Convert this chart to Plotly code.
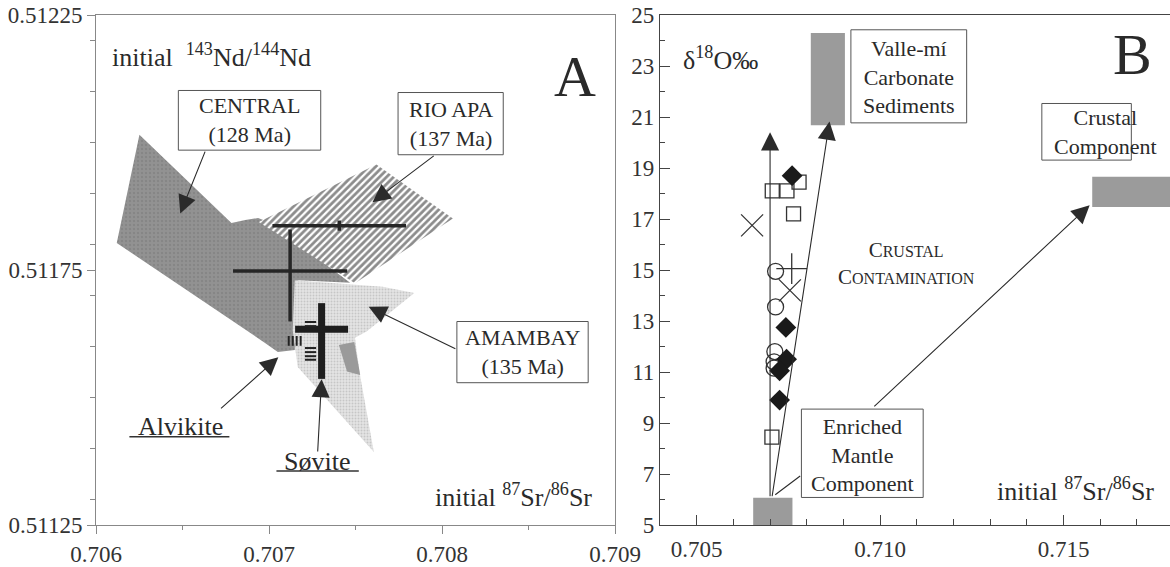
import plotly.graph_objects as go

FONT = "Liberation Serif"

# ---------------- Panel A data (initial 87Sr/86Sr vs 143Nd/144Nd) ----------------
central_x = [0.706251, 0.706783, 0.706863, 0.706937, 0.707011, 0.707469, 0.707166, 0.707149, 0.707051, 0.706977, 0.706120]
central_y = [0.512015, 0.511842, 0.511848, 0.511852, 0.511842, 0.511725, 0.511730, 0.511593, 0.511589, 0.511607, 0.511803]

rioapa_x = [0.706941, 0.707621, 0.708063, 0.707497]
rioapa_y = [0.511844, 0.511957, 0.511851, 0.511724]

amambay_x = [0.707149, 0.707657, 0.707840, 0.707566, 0.707497, 0.707526, 0.707606, 0.707166, 0.707137]
amambay_y = [0.511730, 0.511717, 0.511705, 0.511630, 0.511617, 0.511544, 0.511393, 0.511560, 0.511632]

sliver_x = [0.707404, 0.707493, 0.707527, 0.707451]
sliver_y = [0.511603, 0.511609, 0.511544, 0.511551]

# mean values with error bars
means_x = [0.707122, 0.707406]
means_y = [0.511748, 0.511837]
means_ex = [0.00033, 0.000386]
means_ey_plus = [0.0000814, 0.00001]
means_ey_minus = [0.0000988, 0.00001]

sovite_x = [0.707304]
sovite_y = [0.511634]
sovite_ex = [0.000153]
sovite_ey_plus = [0.000051]
sovite_ey_minus = [0.0000975]

alv_ns_x = [0.707114, 0.707137, 0.707160, 0.707183]
alv_ns_y = [0.511611, 0.511611, 0.511611, 0.511611]
alv_ew_x = [0.707240, 0.707240, 0.707240, 0.707240, 0.707240, 0.707240]
alv_ew_y = [0.511648, 0.511640, 0.511597, 0.511589, 0.511581, 0.511574]

# ---------------- Panel B data (initial 87Sr/86Sr vs d18O) ----------------
sq_x = [0.70706, 0.70746, 0.70779, 0.70764, 0.70705]
sq_y = [18.10, 18.10, 18.45, 17.20, 8.45]

ci_x = [0.70715, 0.70715, 0.70713, 0.70711, 0.70711]
ci_y = [14.95, 13.55, 11.80, 11.40, 11.15]

di_x = [0.70760, 0.70743, 0.70745, 0.70726, 0.70726]
di_y = [18.70, 12.75, 11.50, 11.05, 9.90]

xm_x = [0.70651, 0.70754]
xm_y = [16.75, 14.20]

pl_x = [0.70759]
pl_y = [15.05]

# end-member fields (x0, x1, y0, y1)
mantle_box = [0.70654, 0.70761, 5.0, 6.07]
vallemi_box = [0.70811, 0.70904, 20.68, 24.29]
crust_box = [0.71578, 0.71900, 17.47, 18.66]

fig = go.Figure()

# ---- Panel A polygons
fig.add_trace(go.Scatter(x=central_x, y=central_y, fill="toself", mode="lines",
                         line=dict(width=0, color="#8c8c8c"), fillcolor="#8e8e8e",
                         fillpattern=dict(shape=".", fgcolor="#7a7a7a", bgcolor="#929292", size=4, solidity=0.3),
                         xaxis="x", yaxis="y", hoverinfo="skip"))
fig.add_trace(go.Scatter(x=rioapa_x, y=rioapa_y, fill="toself", mode="lines",
                         line=dict(width=0, color="#333"),
                         fillpattern=dict(shape="/", fgcolor="#1a1a1a", bgcolor="white", size=5, solidity=0.55),
                         xaxis="x", yaxis="y", hoverinfo="skip"))
fig.add_trace(go.Scatter(x=amambay_x, y=amambay_y, fill="toself", mode="lines",
                         line=dict(width=0, color="#ccc"),
                         fillpattern=dict(shape=".", fgcolor="#a8a8a8", bgcolor="#e4e4e4", size=3, solidity=0.35),
                         xaxis="x", yaxis="y", hoverinfo="skip"))
fig.add_trace(go.Scatter(x=sliver_x, y=sliver_y, fill="toself", mode="lines",
                         line=dict(width=0, color="#999"), fillcolor="#9a9a9a",
                         xaxis="x", yaxis="y", hoverinfo="skip"))

# ---- Panel A error crosses
fig.add_trace(go.Scatter(x=means_x, y=means_y, mode="markers", marker=dict(size=1, color="#222"),
                         error_x=dict(type="data", array=means_ex, color="#262626", thickness=3.5, width=0),
                         error_y=dict(type="data", array=means_ey_plus, arrayminus=means_ey_minus,
                                      symmetric=False, color="#262626", thickness=3.5, width=0),
                         xaxis="x", yaxis="y", hoverinfo="skip"))
fig.add_trace(go.Scatter(x=sovite_x, y=sovite_y, mode="markers", marker=dict(size=1, color="#222"),
                         error_x=dict(type="data", array=sovite_ex, color="#1e1e1e", thickness=7, width=0),
                         error_y=dict(type="data", array=sovite_ey_plus, arrayminus=sovite_ey_minus,
                                      symmetric=False, color="#1e1e1e", thickness=7, width=0),
                         xaxis="x", yaxis="y", hoverinfo="skip"))
fig.add_trace(go.Scatter(x=alv_ns_x, y=alv_ns_y, mode="markers",
                         marker=dict(symbol="line-ns", size=7, line=dict(width=2, color="#222")),
                         xaxis="x", yaxis="y", hoverinfo="skip"))
fig.add_trace(go.Scatter(x=alv_ew_x, y=alv_ew_y, mode="markers",
                         marker=dict(symbol="line-ew", size=8, line=dict(width=2, color="#222")),
                         xaxis="x", yaxis="y", hoverinfo="skip"))

# ---- Panel B markers
mk_line = dict(width=1.3, color="#333")
fig.add_trace(go.Scatter(x=sq_x, y=sq_y, mode="markers",
                         marker=dict(symbol="square-open", size=14, color="#333", line=mk_line),
                         xaxis="x2", yaxis="y2", hoverinfo="skip"))
fig.add_trace(go.Scatter(x=ci_x, y=ci_y, mode="markers",
                         marker=dict(symbol="circle-open", size=16, color="#333", line=mk_line),
                         xaxis="x2", yaxis="y2", hoverinfo="skip"))
fig.add_trace(go.Scatter(x=di_x, y=di_y, mode="markers",
                         marker=dict(symbol="diamond", size=16, color="#1a1a1a", line=dict(width=0)),
                         xaxis="x2", yaxis="y2", hoverinfo="skip"))
fig.add_trace(go.Scatter(x=xm_x, y=xm_y, mode="markers",
                         marker=dict(symbol="x-thin-open", size=22, color="#333", line=mk_line),
                         xaxis="x2", yaxis="y2", hoverinfo="skip"))
fig.add_trace(go.Scatter(x=pl_x, y=pl_y, mode="markers",
                         marker=dict(symbol="cross-thin-open", size=22, color="#333", line=mk_line),
                         xaxis="x2", yaxis="y2", hoverinfo="skip"))

shapes = []
for b in (mantle_box, vallemi_box, crust_box):
    shapes.append(dict(type="rect", xref="x2", yref="y2", x0=b[0], x1=b[1], y0=b[2], y1=b[3],
                       fillcolor="#9b9b9b", line=dict(width=0), layer="below"))

# label boxes: (xref, yref, x0, x1, y0, y1)
label_boxes = [
    ("x", "y", 0.706476, 0.707299, 0.511985, 0.512102),
    ("x", "y", 0.707746, 0.708354, 0.511976, 0.512098),
    ("x", "y", 0.708086, 0.708845, 0.511529, 0.511649),
    ("x2", "y2", 0.709203, 0.712358, 20.77, 24.42),
    ("x2", "y2", 0.714407, 0.716846, 19.31, 21.53),
    ("x2", "y2", 0.707854, 0.711173, 6.08, 9.545),
]
for xr, yr, x0, x1, y0, y1 in label_boxes:
    shapes.append(dict(type="rect", xref=xr, yref=yr, x0=x0, x1=x1, y0=y0, y1=y1,
                       fillcolor="white", line=dict(width=1, color="#555")))
# underlines
shapes.append(dict(type="line", xref="x", yref="y", x0=0.706193, x1=0.706771, y0=0.511423, y1=0.511423,
                   line=dict(width=1.5, color="#333")))
shapes.append(dict(type="line", xref="x", yref="y", x0=0.707043, x1=0.707519, y0=0.511356, y1=0.511356,
                   line=dict(width=1.5, color="#333")))

ann = []
def arrow(xr, yr, tail, tip, head=2, size=3.3):
    ann.append(dict(xref=xr, yref=yr, axref=xr, ayref=yr, x=tip[0], y=tip[1], ax=tail[0], ay=tail[1],
                    text="", showarrow=True, arrowhead=head, arrowsize=size, arrowwidth=1.1,
                    arrowcolor="#2b2b2b", standoff=0, startstandoff=0))

arrow("x", "y", (0.706634, 0.511985), (0.706487, 0.511861))
arrow("x", "y", (0.707961, 0.511976), (0.707598, 0.511883))
arrow("x", "y", (0.708086, 0.511594), (0.707576, 0.511678))
arrow("x", "y", (0.706714, 0.511476), (0.707054, 0.511579))
arrow("x", "y", (0.707281, 0.511391), (0.707304, 0.511536))
arrow("x2", "y2", (0.70700, 6.07), (0.70700, 20.40))
arrow("x2", "y2", (0.70705, 6.07), (0.70862, 20.82))
arrow("x2", "y2", (0.70980, 9.60), (0.71571, 17.54))
arrow("x2", "y2", (0.70710, 6.14), (0.70782, 6.92), head=0)

def text(xr, yr, x, y, t, size=23, xa="center", ya="middle", color="#2a2a2a"):
    ann.append(dict(xref=xr, yref=yr, x=x, y=y, text=t, showarrow=False, xanchor=xa, yanchor=ya,
                    font=dict(family=FONT, size=size, color=color)))

text("x", "y", 0.70608, 0.51217, "initial  <sup>143</sup>Nd/<sup>144</sup>Nd", size=26, xa="left")
text("x", "y", 0.708766, 0.51213, "A", size=58)
text("x", "y", 0.70888, 0.511307, "initial <sup>87</sup>Sr/<sup>86</sup>Sr", size=26, xa="right")
text("x", "y", 0.706886, 0.512044, "CENTRAL<br>(128 Ma)", size=22)
text("x", "y", 0.70805, 0.512037, "RIO APA<br>(137 Ma)", size=22)
text("x", "y", 0.708465, 0.511589, "AMAMBAY<br>(135 Ma)", size=22)
text("x", "y", 0.706491, 0.511444, "Alvikite", size=26)
text("x", "y", 0.707280, 0.511374, "Søvite", size=26)

text("x2", "y2", 0.710780, 22.55, "Valle-mí<br>Carbonate<br>Sediments", size=22)
text("x2", "y2", 0.716130, 20.42, "Crustal<br>Component", size=22)
text("x2", "y2", 0.709518, 7.73, "Enriched<br>Mantle<br>Component", size=22)
text("x2", "y2", 0.710710, 15.24,
     "C<span style='font-size:16px'>RUSTAL</span><br>C<span style='font-size:16px'>ONTAMINATION</span>", size=21)
text("x2", "y2", 0.704566, 23.31, "δ<sup>18</sup>O‰", size=26, xa="left")
text("x2", "y2", 0.716889, 23.45, "B", size=58)
text("x2", "y2", 0.717520, 6.41, "initial <sup>87</sup>Sr/<sup>86</sup>Sr", size=26, xa="right")

tickfont = dict(family=FONT, size=23, color="#333")
W, H = 1170, 567

fig.update_layout(
    width=W, height=H, margin=dict(l=0, r=0, t=0, b=0, autoexpand=False),
    paper_bgcolor="white", plot_bgcolor="white", showlegend=False,
    shapes=shapes, annotations=ann,
    xaxis=dict(domain=[96 / W, 615 / W], range=[0.706, 0.709], dtick=0.001, tick0=0.706, tickformat=".3f",
               automargin=False,
               showline=True, mirror=True, linecolor="#888", linewidth=1, showgrid=False, zeroline=False,
               ticks="outside", ticklen=8, tickcolor="#888", tickfont=tickfont,
               minor=dict(dtick=0.0005, ticks="outside", ticklen=4, tickcolor="#888")),
    yaxis=dict(domain=[42 / H, 552 / H], range=[0.51125, 0.51225], dtick=0.0005, tick0=0.51125, tickformat=".5f",
               automargin=False,
               showline=True, mirror=True, linecolor="#888", linewidth=1, showgrid=False, zeroline=False,
               ticks="outside", ticklen=8, tickcolor="#888", tickfont=tickfont,
               minor=dict(dtick=0.0001, ticks="outside", ticklen=5, tickcolor="#888")),
    xaxis2=dict(domain=[660 / W, 1.0], range=[0.704, 0.7179], dtick=0.005, tick0=0.705, tickformat=".3f",
                automargin=False,
                anchor="y2", showline=True, mirror=True, linecolor="#444", linewidth=1.2, showgrid=False,
                zeroline=False, ticks="inside", ticklen=10, tickcolor="#444", tickfont=tickfont,
                ticklabelstandoff=3,
                minor=dict(dtick=0.001, ticks="inside", ticklen=6, tickcolor="#444")),
    yaxis2=dict(domain=[42 / H, 552 / H], range=[5, 25], dtick=2, tick0=5, anchor="x2",
                automargin=False,
                showline=True, linecolor="#444", linewidth=1.2, showgrid=False, zeroline=False,
                ticks="inside", ticklen=10, tickcolor="#444", tickfont=tickfont,
                minor=dict(dtick=1, ticks="inside", ticklen=5, tickcolor="#444")),
)

fig.write_html("out.html")
